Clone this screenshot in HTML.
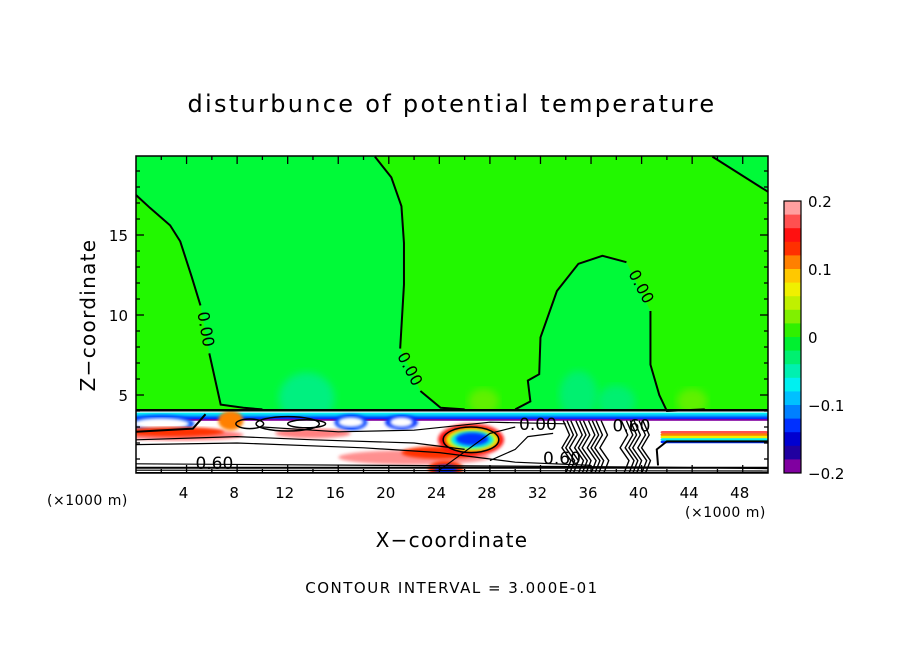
<!DOCTYPE html>
<html><head><meta charset="utf-8"><style>
body{margin:0;background:#fff;}
svg{display:block;font-family:"DejaVu Sans","Liberation Sans",sans-serif;}
</style></head><body>
<svg id="chart" width="904" height="654" viewBox="0 0 904 654">
<text x="452" y="112" text-anchor="middle" font-size="24" letter-spacing="2.3">disturbunce of potential temperature</text>
<g id="plot"></g>
<g id="axes"></g>
<g id="cbar"></g>
<text x="47" y="505" font-size="14" letter-spacing="0.5">(×1000 m)</text>
<text x="685" y="517" font-size="14" letter-spacing="0.5">(×1000 m)</text>
<text x="452" y="547" text-anchor="middle" font-size="20" letter-spacing="1.3">X−coordinate</text>
<text transform="translate(95,315) rotate(-90)" text-anchor="middle" font-size="20" letter-spacing="1.3">Z−coordinate</text>
<text x="452" y="593" text-anchor="middle" font-size="15" letter-spacing="1.5">CONTOUR INTERVAL = 3.000E-01</text>
</svg>
<script>
const xTicks=[4,8,12,16,20,24,28,32,36,40,44,48];
const yTicks=[5,10,15];
const cbLevels=[0.2,0.18,0.16,0.14,0.12,0.1,0.08,0.06,0.04,0.02,0,-0.02,-0.04,-0.06,-0.08,-0.1,-0.12,-0.14,-0.16,-0.18,-0.2];
const cbColors=["#ffa0a0","#ff5050","#ff1010","#ff3000","#ff8000","#ffc800","#f0f000","#c0f000","#80f000","#30f000","#00f030","#00f070","#00f0b0","#00f0f0","#00c0ff","#0080ff","#0030ff","#0000d0","#2000a0","#8000a0"];
const cbLabels=[0.2,0.1,0,-0.1,-0.2];
const line1a=[[0,17.5],[1.1,16.7],[2.7,15.6],[3.5,14.6],[4.4,12.4],[5.1,10.6]];
const line1b=[[5.8,7.6],[6.7,4.4],[8.5,4.2],[10,4.1]];
const line2a=[[18.9,19.9],[20.2,18.6],[21.0,16.8],[21.2,14.5],[21.2,11.9],[20.9,7.9]];
const line2b=[[22.5,5.25],[24.1,4.2],[26,4.1]];
const domeA=[[30,4.1],[31.2,4.6],[31.0,5.9],[31.9,6.3],[32.0,8.6],[33.3,11.5],[35.0,13.2],[36.9,13.7],[38.8,13.3]];
const domeB=[[40.7,10.25],[40.7,6.9],[41.4,5.0],[42.0,4.0],[45,4.1]];
const rightLine=[[45.6,19.9],[50,17.7]];
const zeroLabels=[[5.45,9.1,80],[21.6,6.6,62],[39.9,11.75,62]];
const lowLabels=[[6.2,0.75,'0.60'],[33.7,1.05,'0.60'],[31.8,3.2,'0.00'],[39.2,3.1,'0.60']];

const X0=136,X1=768,XMAX=50;
const sx=v=>X0+v*(X1-X0)/XMAX;
const sy=v=>475-v*16;
const NS="http://www.w3.org/2000/svg";
function mk(t,a,p){const e=document.createElementNS(NS,t);for(const k in a)e.setAttribute(k,a[k]);p.appendChild(e);return e;}
const plot=document.getElementById('plot'),axes=document.getElementById('axes'),cb=document.getElementById('cbar');
const pts=a=>a.map(p=>sx(p[0])+','+sy(p[1])).join(' ');
mk('defs',{},plot).innerHTML='<clipPath id="pc"><rect x="136" y="156" width="632" height="317"/></clipPath><filter id="bl"><feGaussianBlur stdDeviation="4"/></filter><filter id="bs"><feGaussianBlur stdDeviation="1.5"/></filter>';
const g=mk('g',{'clip-path':'url(#pc)'},plot);
let bg=mk('rect',{x:136,y:156,width:632,height:317,fill:'#22f800'},g);


let r1=mk('polygon',{points:pts([[0,21],...line1a,...line1b,[24.1,4.0],...line2b.slice().reverse(),...line2a.slice().reverse(),[18.9,21]]),fill:'#00fa38'},g);


let r2=mk('polygon',{points:pts([...domeA,...domeB,[42,3]]),fill:'#00fa38'},g);


let r3=mk('polygon',{points:pts([[45.6,21],...rightLine,[50,21]]),fill:'#00fa38'},g);


[[13.5,4.8,2.2,1.6,'#00f080'],[35,5,1.5,1.5,'#00f070'],[38,4.6,1.5,1,'#00f070'],[27.5,4.6,1.2,0.8,'#60f000'],[44,4.6,1.2,0.8,'#60f000']].forEach(b=>{
 let e=mk('ellipse',{cx:sx(b[0]),cy:sy(b[1]),rx:b[2]*12.64,ry:b[3]*16,fill:b[4],filter:'url(#bl)'},g);
 
 
});
let band=mk('rect',{x:136,y:sy(4.0),width:632,height:80,fill:'#fff'},g);


[[3.9,'#00f0f0'],[3.8,'#00c0ff'],[3.7,'#0080ff'],[3.6,'#0030ff'],[3.5,'#8000a0']].forEach(s=>{
 let r=mk('rect',{x:136,y:sy(s[0]),width:632,height:1.8,fill:s[1]},g);
 
 
});
// blobs: [x,y,rx,ry,color]
const blobs=[[2,3.2,2.6,0.55,'#0050ff'],[2,3.2,2.2,0.35,'#fff'],[3.5,2.5,5,0.35,'#ff8080'],[3,2.7,4,0.3,'#ff3000'],[7.5,3.4,1,0.6,'#ff8000'],[17,3.3,1.3,0.5,'#0040ff'],[17,3.3,1,0.3,'#fff'],[21,3.3,1.3,0.45,'#0030ff'],[21,3.3,0.9,0.3,'#fff'],[14,2.6,3,0.3,'#ff8080'],[22,1.1,6,0.45,'#ff9090'],[24,1.4,3,0.4,'#ff3000'],[26.5,2.2,2.6,1.0,'#ff1010'],[26.6,2.2,2.1,0.75,'#f0f000'],[26.6,2.2,1.7,0.55,'#00f0f0'],[26.6,2.25,1.3,0.4,'#0030ff'],[24.5,0.4,1.4,0.5,'#ff3000'],[24.5,0.35,0.9,0.3,'#0030ff']];
blobs.forEach(b=>{
 let e=mk('ellipse',{cx:sx(b[0]),cy:sy(b[1]),rx:b[2]*12.64,ry:b[3]*16,fill:b[4],filter:'url(#bs)'},g);
 
 
});
// right rainbow edge: [y, color]
const rightEdge=[[2.75,'#ff5050'],[2.6,'#ff8000'],[2.45,'#f0f000'],[2.3,'#00f0f0'],[2.15,'#0030ff']];
rightEdge.forEach(s=>{
 let r=mk('rect',{x:sx(41.5),y:sy(s[0]),width:sx(50)-sx(41.5),height:2.6,fill:s[1],rx:2},g);
 
 
});
const bandLines=[[[0,1.9],[8,2.0],[18,1.7],[24,1.4],[30,0.8],[36,0.6]],[[0,0.7],[20,0.6],[40,0.5],[50,0.4]],[[0,0.3],[50,0.25]],[[0,0.15],[50,0.15]],[[10,3.0],[16,2.7],[22,2.8],[28,3.3],[34,3.2]],[[24,0.3],[28,2.6],[30,3.0]],[[0,2.2],[8,2.4],[14,2.2],[22,2.0],[26,1.6]],[[28,0.9],[30,1.6],[31,2.4],[33,2.6]]];
bandLines.forEach(l=>{let p=mk('polyline',{points:pts(l),fill:'none',stroke:'#000','stroke-width':1.2},g);
 
 });
const thickBand=[[[41.3,0.6],[41.2,1.6],[42,2.1],[50,2.1]],[[0,0.45],[50,0.45]],[[0,2.7],[4.5,2.9],[5.5,3.8]]];
thickBand.forEach(l=>{let p=mk('polyline',{points:pts(l),fill:'none',stroke:'#000','stroke-width':2},g);
 
 });
[[12,3.2,2.5,0.45],[13.5,3.2,1.5,0.25],[9,3.2,1.1,0.3],[26.5,2.2,2.2,0.8]].forEach(b=>{
 let e=mk('ellipse',{cx:sx(b[0]),cy:sy(b[1]),rx:b[2]*12.64,ry:b[3]*16,fill:'none',stroke:'#000','stroke-width':1.5},g);
 
 
});
const scribX=[34,34.3,34.6,35,35.3,35.6,36,36.3,36.6,37,38.6,39,39.3,39.6,40,40.3];
scribX.forEach((x,i)=>{let p=mk('polyline',{points:pts([[x,0.1],[x+0.4,0.9],[x-0.3,1.7],[x+0.3,2.5],[x-0.2,3.4]]),fill:'none',stroke:'#000','stroke-width':1.4},g);
 
 });
let topLine=mk('polyline',{points:pts([[0,4.05],[50,4.05]]),fill:'none',stroke:'#000','stroke-width':2.5},g);


[line1a,line1b,line2a,line2b,domeA,domeB,rightLine].forEach(l=>{
 let p=mk('polyline',{points:pts(l),fill:'none',stroke:'#000','stroke-width':2},g);
 
 });
zeroLabels.forEach(z=>{let t=mk('text',{x:sx(z[0]),y:sy(z[1]),'font-size':16,'text-anchor':'middle','dominant-baseline':'middle',transform:`rotate(${z[2]} ${sx(z[0])} ${sy(z[1])})`},g);t.textContent='0.00';
 
 });
lowLabels.forEach(z=>{let t=mk('text',{x:sx(z[0]),y:sy(z[1])+6,'font-size':17,'text-anchor':'middle'},g);t.textContent=z[2];
 
 });
let fr=mk('rect',{x:136,y:156,width:632,height:317,fill:'none',stroke:'#000','stroke-width':1.5},axes);


for(let v=2;v<50;v+=2){const L=v%4==0?8:4;
 mk('line',{x1:sx(v),x2:sx(v),y1:473,y2:473-L,stroke:'#000','stroke-width':1.3},axes);
 mk('line',{x1:sx(v),x2:sx(v),y1:156,y2:156+L,stroke:'#000','stroke-width':1.3},axes);}
xTicks.forEach(v=>{
 let t=mk('text',{x:sx(v)-3,y:498,'font-size':15,'text-anchor':'middle'},axes);t.textContent=v;
 
 });
for(let v=1;v<=19;v++){const L=v%5==0?8:4;
 mk('line',{x1:136,x2:136+L,y1:sy(v),y2:sy(v),stroke:'#000','stroke-width':1.3},axes);
 mk('line',{x1:768,x2:768-L,y1:sy(v),y2:sy(v),stroke:'#000','stroke-width':1.3},axes);}
yTicks.forEach(v=>{let t=mk('text',{x:128,y:sy(v)+6,'font-size':15,'text-anchor':'end'},axes);t.textContent=v;
 
 });
const cy0=201,cy1=473,ch=(cy1-cy0)/cbColors.length;
cbColors.forEach((c,i)=>{let r=mk('rect',{x:784,y:cy0+i*ch,width:17,height:ch+0.5,fill:c},cb);
 
 });
mk('rect',{x:784,y:cy0,width:17,height:cy1-cy0,fill:'none',stroke:'#000','stroke-width':1.2},cb);
const cby=v=>cy0+(0.2-v)/0.4*(cy1-cy0);
cbLabels.forEach(v=>{let t=mk('text',{x:808,y:cby(v)+6,'font-size':15},cb);t.textContent=v<0?'−'+Math.abs(v):String(v);
 
 });
</script>
</body></html>
